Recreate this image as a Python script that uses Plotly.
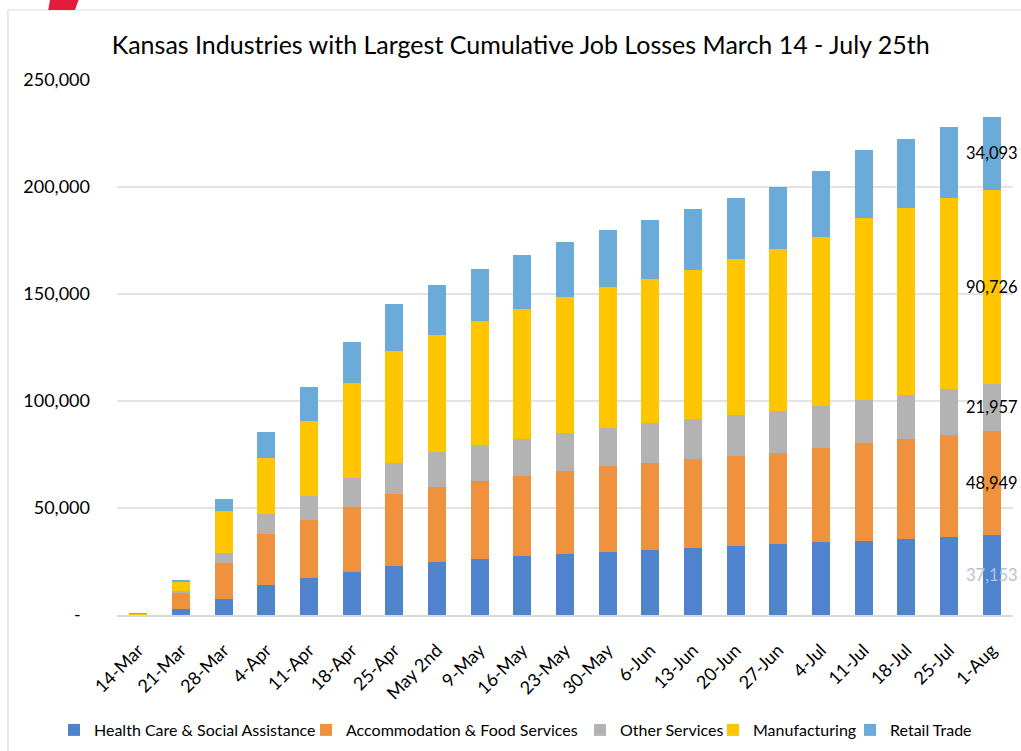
import plotly.graph_objects as go

# Week-ending dates
weeks = ["14-Mar", "21-Mar", "28-Mar", "4-Apr", "11-Apr", "18-Apr", "25-Apr",
         "May 2nd", "9-May", "16-May", "23-May", "30-May", "6-Jun", "13-Jun",
         "20-Jun", "27-Jun", "4-Jul", "11-Jul", "18-Jul", "25-Jul", "1-Aug"]

# Cumulative job losses by industry
health_care = [150, 2800, 7600, 13800, 17300, 20300, 23100, 25000, 26300, 27700,
               28600, 29500, 30600, 31500, 32100, 33200, 34000, 34800, 35600,
               36600, 37153]
accommodation = [200, 7500, 16500, 24100, 27300, 30400, 33400, 35000, 36500, 37400,
                 38900, 40200, 40600, 41400, 42200, 42700, 44000, 45700, 46500,
                 47400, 48949]
other_services = [60, 700, 5000, 9500, 11200, 13500, 14700, 16100, 16700, 17200,
                  17600, 17800, 18400, 18700, 19100, 19500, 19800, 19900, 20700,
                  21500, 21957]
manufacturing = [100, 4200, 19600, 26100, 35000, 44100, 52300, 54800, 57800, 60500,
                 63400, 65600, 67300, 69400, 72800, 75600, 79000, 85300, 87400,
                 89400, 90726]
retail_trade = [140, 1100, 5600, 12200, 15900, 19100, 21800, 23400, 24600, 25300,
                26000, 26600, 27700, 28500, 28500, 29200, 30600, 31800, 32000,
                33300, 34093]

series = [
    ("Health Care & Social Assistance", health_care, "#5083CE"),
    ("Accommodation & Food Services", accommodation, "#EF913D"),
    ("Other Services", other_services, "#B3B3B3"),
    ("Manufacturing", manufacturing, "#FFC600"),
    ("Retail Trade", retail_trade, "#6BABDA"),
]

y_ticks = [0, 50000, 100000, 150000, 200000, 250000]
y_tick_text = ["-\u00a0\u00a0", "50,000", "100,000", "150,000", "200,000", "250,000"]

FONT = "Lato, 'Open Sans', sans-serif"
W, H = 1021, 751

# Left edge (px) of each legend entry along the bottom row
legend_left_px = [54, 306, 580, 713, 850]

fig = go.Figure()
legend_layouts = {}
for i, ((name, values, color), lx) in enumerate(zip(series, legend_left_px)):
    key = "legend" if i == 0 else f"legend{i + 1}"
    fig.add_trace(go.Bar(
        x=weeks, y=values, name=name, legend=key,
        marker=dict(color=color, line=dict(width=0)),
    ))
    legend_layouts[key] = dict(
        orientation="h", xref="container", yref="container",
        x=lx / W, xanchor="left", y=1 - 730 / H, yanchor="middle",
        font=dict(family=FONT, size=16, color="#000000"),
        itemwidth=30, bgcolor="rgba(0,0,0,0)",
    )

# Value labels on the final week's stack
label_colors = ["#B4C2D8", "#000000", "#000000", "#000000", "#000000"]
base = 0
for (name, values, color), lc in zip(series, label_colors):
    v = values[-1]
    fig.add_annotation(
        x=weeks[-1], y=base + v / 2, text=f"{v:,}", showarrow=False,
        font=dict(family=FONT, size=16.5, color=lc),
        xanchor="center", yanchor="middle",
    )
    base += v

# Chart frame and corner accent
fig.add_shape(type="rect", xref="paper", yref="paper",
              x0=-0.1217, x1=1.05, y0=-0.3, y1=1.1308,
              line=dict(color="#D9D9D9", width=1.2), fillcolor="rgba(0,0,0,0)",
              layer="below")
fig.add_shape(type="path", xref="paper", yref="paper",
              path="M -0.0748 1.1495 L -0.0429 1.1495 L -0.0469 1.1308 L -0.0768 1.1308 Z",
              line=dict(width=0), fillcolor="#E31C3D")

fig.update_layout(
    width=W, height=H,
    margin=dict(l=117, r=8, t=80, b=136, autoexpand=False),
    paper_bgcolor="white", plot_bgcolor="white",
    barmode="stack", bargap=0.58,
    font=dict(family=FONT, color="#000000"),
    title=dict(
        text="Kansas Industries with Largest Cumulative Job Losses March 14 - July 25th",
        x=0.51, xref="container", xanchor="center",
        y=1 - 45 / H, yref="container", yanchor="middle",
        font=dict(family=FONT, size=25, color="#000000"),
    ),
    xaxis=dict(
        type="category", range=[-0.5, len(weeks) - 0.5],
        tickangle=-45, tickfont=dict(family=FONT, size=18, color="#000000"),
        showgrid=False, showline=True, linecolor="#D9D9D9", linewidth=1.5,
        ticks="", ticklabelstandoff=16, automargin=False,
    ),
    yaxis=dict(
        range=[0, 250000], tickvals=y_ticks, ticktext=y_tick_text,
        tickfont=dict(family=FONT, size=18, color="#000000"),
        showgrid=True, gridcolor="#E3E3E3", gridwidth=1.5,
        zeroline=False, showline=False, ticks="", ticklabelstandoff=26,
        automargin=False,
    ),
    showlegend=True,
    **legend_layouts,
)

fig.write_html("out.html")
